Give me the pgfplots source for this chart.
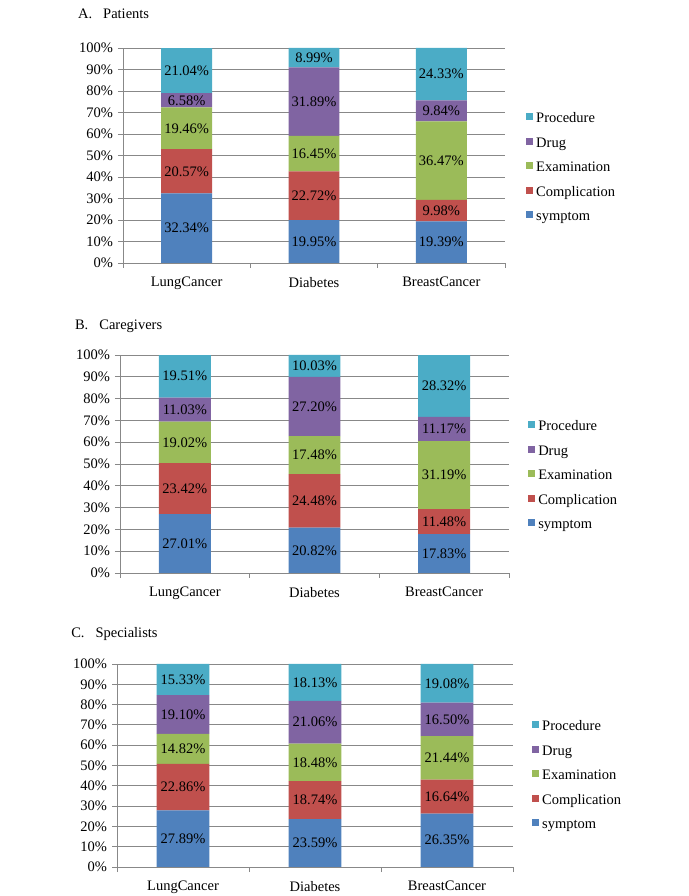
\documentclass[border=0pt]{standalone}
\usepackage{pgfplots}
\pgfplotsset{compat=1.18}
\usepackage{pgfplotstable}
\usepackage{fontspec}
\setmainfont{Liberation Serif}
\definecolor{cS}{HTML}{4F81BD}
\definecolor{cC}{HTML}{C0504D}
\definecolor{cE}{HTML}{9BBB59}
\definecolor{cD}{HTML}{8064A2}
\definecolor{cP}{HTML}{4BACC6}
\definecolor{gridc}{HTML}{888888}

\pgfplotstableread{
x s c e d p
0 32.34 20.57 19.46 6.58 21.04
1 19.95 22.72 16.45 31.89 8.99
2 19.39 9.98 36.47 9.84 24.33
}\tabA
\pgfplotstableread{
x s c e d p
0 27.01 23.42 19.02 11.03 19.51
1 20.82 24.48 17.48 27.20 10.03
2 17.83 11.48 31.19 11.17 28.32
}\tabB
\pgfplotstableread{
x s c e d p
0 27.89 22.86 14.82 19.10 15.33
1 23.59 18.74 18.48 21.06 18.13
2 26.35 16.64 21.44 16.50 19.08
}\tabC

\pgfplotsset{
  geomA/.style={at={(123bp,633bp)}, anchor=south west, width=382bp, height=215bp},
  geomB/.style={at={(120bp,323bp)}, anchor=south west, width=389bp, height=218bp},
  geomC/.style={at={(117bp,29bp)}, anchor=south west, width=396bp, height=203bp},
  common/.style={scale only axis, xmin=-0.5, xmax=2.5, ymin=0, ymax=100},
  panel/.style={common,
    ybar stacked, bar width=0.4,
    axis x line*=bottom, axis y line*=left,
    axis line style={gridc, line width=0.8bp},
    tick style={gridc, line width=0.8bp},
    tick align=outside, major tick length=5bp,
    xtick={-0.5,0.5,1.5,2.5}, xticklabels={},
    extra x ticks={0,1,2},
    extra x tick labels={LungCancer,Diabetes,BreastCancer},
    extra x tick style={major tick length=0pt, xticklabel style={yshift=-9bp}},
    ytick={0,10,...,100},
    yticklabels={0\%,10\%,20\%,30\%,40\%,50\%,60\%,70\%,80\%,90\%,100\%},
    ymajorgrids, grid style={gridc, line width=0.8bp},
    every axis title shift=0pt,
    title style={anchor=west, inner sep=0pt},
    legend cell align=left, reverse legend,
    legend style={draw=none, fill=none, anchor=west, inner sep=0pt,
      row sep=11.5bp,
      nodes={inner sep=0pt, text height=10bp, text depth=3bp},
      /tikz/every odd column/.append style={column sep=3bp}},
    legend image code/.code={\fill[##1] (0bp,-1bp) rectangle (7bp,6bp);},
  },
  lbl/.style={common, hide axis},
  lab/.style={draw=none, mark=none, nodes near coords={\pgfplotspointmeta\%},
    point meta=explicit symbolic,
    every node near coord/.append style={anchor=center, text=black, inner sep=0pt}},
}

\begin{document}
\fontsize{14.5bp}{17bp}\selectfont
\begin{tikzpicture}
\useasboundingbox (0,0) rectangle (689bp,896bp);
% Panel A
\begin{axis}[panel, geomA,
  title={A.\hspace{11bp}Patients}, title style={at={(-0.118,1.158)}},
  legend style={at={(1.055,0.44)}}]
\addplot[fill=cS, draw=none] table[x=x,y=s]{\tabA}; \addlegendentry{symptom}
\addplot[fill=cC, draw=none] table[x=x,y=c]{\tabA}; \addlegendentry{Complication}
\addplot[fill=cE, draw=none] table[x=x,y=e]{\tabA}; \addlegendentry{Examination}
\addplot[fill=cD, draw=none] table[x=x,y=d]{\tabA}; \addlegendentry{Drug}
\addplot[fill=cP, draw=none] table[x=x,y=p]{\tabA}; \addlegendentry{Procedure}
\end{axis}
\begin{axis}[lbl, geomA]
\addplot[lab] table[x=x, y expr=\thisrow{s}/2, meta=s]{\tabA};
\addplot[lab] table[x=x, y expr=\thisrow{s}+\thisrow{c}/2, meta=c]{\tabA};
\addplot[lab] table[x=x, y expr=\thisrow{s}+\thisrow{c}+\thisrow{e}/2, meta=e]{\tabA};
\addplot[lab] table[x=x, y expr=\thisrow{s}+\thisrow{c}+\thisrow{e}+\thisrow{d}/2, meta=d]{\tabA};
\addplot[lab] table[x=x, y expr=\thisrow{s}+\thisrow{c}+\thisrow{e}+\thisrow{d}+\thisrow{p}/2, meta=p]{\tabA};
\end{axis}
% Panel B
\begin{axis}[panel, geomB,
  title={B.\hspace{11bp}Caregivers}, title style={at={(-0.116,1.133)}},
  legend style={at={(1.049,0.443)}}]
\addplot[fill=cS, draw=none] table[x=x,y=s]{\tabB}; \addlegendentry{symptom}
\addplot[fill=cC, draw=none] table[x=x,y=c]{\tabB}; \addlegendentry{Complication}
\addplot[fill=cE, draw=none] table[x=x,y=e]{\tabB}; \addlegendentry{Examination}
\addplot[fill=cD, draw=none] table[x=x,y=d]{\tabB}; \addlegendentry{Drug}
\addplot[fill=cP, draw=none] table[x=x,y=p]{\tabB}; \addlegendentry{Procedure}
\end{axis}
\begin{axis}[lbl, geomB]
\addplot[lab] table[x=x, y expr=\thisrow{s}/2, meta=s]{\tabB};
\addplot[lab] table[x=x, y expr=\thisrow{s}+\thisrow{c}/2, meta=c]{\tabB};
\addplot[lab] table[x=x, y expr=\thisrow{s}+\thisrow{c}+\thisrow{e}/2, meta=e]{\tabB};
\addplot[lab] table[x=x, y expr=\thisrow{s}+\thisrow{c}+\thisrow{e}+\thisrow{d}/2, meta=d]{\tabB};
\addplot[lab] table[x=x, y expr=\thisrow{s}+\thisrow{c}+\thisrow{e}+\thisrow{d}+\thisrow{p}/2, meta=p]{\tabB};
\end{axis}
% Panel C
\begin{axis}[panel, geomC,
  title={C.\hspace{11bp}Specialists}, title style={at={(-0.116,1.148)}},
  legend style={at={(1.048,0.448)}}]
\addplot[fill=cS, draw=none] table[x=x,y=s]{\tabC}; \addlegendentry{symptom}
\addplot[fill=cC, draw=none] table[x=x,y=c]{\tabC}; \addlegendentry{Complication}
\addplot[fill=cE, draw=none] table[x=x,y=e]{\tabC}; \addlegendentry{Examination}
\addplot[fill=cD, draw=none] table[x=x,y=d]{\tabC}; \addlegendentry{Drug}
\addplot[fill=cP, draw=none] table[x=x,y=p]{\tabC}; \addlegendentry{Procedure}
\end{axis}
\begin{axis}[lbl, geomC]
\addplot[lab] table[x=x, y expr=\thisrow{s}/2, meta=s]{\tabC};
\addplot[lab] table[x=x, y expr=\thisrow{s}+\thisrow{c}/2, meta=c]{\tabC};
\addplot[lab] table[x=x, y expr=\thisrow{s}+\thisrow{c}+\thisrow{e}/2, meta=e]{\tabC};
\addplot[lab] table[x=x, y expr=\thisrow{s}+\thisrow{c}+\thisrow{e}+\thisrow{d}/2, meta=d]{\tabC};
\addplot[lab] table[x=x, y expr=\thisrow{s}+\thisrow{c}+\thisrow{e}+\thisrow{d}+\thisrow{p}/2, meta=p]{\tabC};
\end{axis}
\end{tikzpicture}
\end{document}
